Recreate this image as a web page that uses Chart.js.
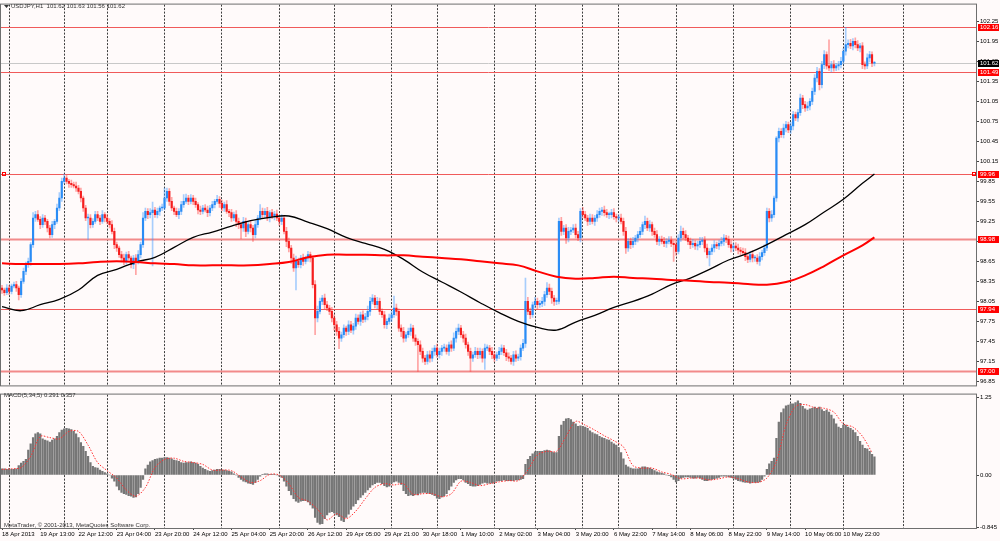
<!DOCTYPE html>
<html>
<head>
<meta charset="utf-8">
<script src="https://cdn.jsdelivr.net/npm/chart.js@4.4.0/dist/chart.umd.min.js"></script>
<style>
    html, body { margin: 0; padding: 0; background: #fffafa; }
    #wrap { position: relative; width: 1000px; height: 541px; overflow: hidden; background: #fffafa; }
    #main { position: absolute; left: 0; top: 0; width: 1000px; height: 390px; }
    #sub { position: absolute; left: 0; top: 390px; width: 1000px; height: 151px; }
</style>
</head>
<body>
<div id="wrap">
    <div id="main"><canvas id="price-chart"></canvas></div>
    <div id="sub"><canvas id="macd-chart"></canvas></div>
</div>
<script>
/**
 * USDJPY H1 - price chart with MAs, levels and MACD(5,34,5)
 */

// hourly closes, bar 0 = 18 Apr 2013
const firstOpen = 98.25;
const closes = [
    98.22, 98.18, 98.25, 98.20, 98.28, 98.30, 98.25, 98.15, 98.35, 98.50, 98.60, 98.65, 98.90, 99.30, 99.35, 99.28, 99.20, 99.30, 99.25, 99.15,
    99.05, 99.20, 99.25, 99.45, 99.60, 99.85, 99.90, 99.85, 99.82, 99.80, 99.78, 99.75, 99.70, 99.60, 99.45, 99.30, 99.30, 99.20, 99.25, 99.35,
    99.30, 99.25, 99.35, 99.30, 99.25, 99.20, 99.10, 98.90, 98.85, 98.75, 98.70, 98.65, 98.75, 98.70, 98.60, 98.70, 98.65, 98.75, 98.90, 99.30,
    99.40, 99.35, 99.38, 99.42, 99.35, 99.40, 99.45, 99.45, 99.60, 99.70, 99.55, 99.45, 99.40, 99.35, 99.40, 99.50, 99.55, 99.60, 99.55, 99.60,
    99.55, 99.50, 99.42, 99.40, 99.45, 99.42, 99.38, 99.45, 99.50, 99.55, 99.58, 99.52, 99.45, 99.50, 99.40, 99.38, 99.30, 99.35, 99.25, 99.20,
    99.15, 99.25, 99.10, 99.20, 99.15, 99.05, 99.20, 99.30, 99.40, 99.35, 99.40, 99.30, 99.38, 99.32, 99.36, 99.30, 99.25, 99.30, 99.10, 98.95,
    98.85, 98.70, 98.55, 98.65, 98.60, 98.70, 98.65, 98.70, 98.75, 98.70, 98.30, 97.80, 97.90, 98.05, 98.10, 98.00, 97.95, 97.90, 97.80, 97.70,
    97.60, 97.50, 97.55, 97.65, 97.60, 97.70, 97.62, 97.68, 97.80, 97.75, 97.85, 97.78, 97.82, 97.90, 98.05, 98.10, 98.00, 98.05, 97.90, 97.85,
    97.70, 97.75, 97.80, 97.85, 97.95, 97.90, 97.65, 97.60, 97.50, 97.55, 97.60, 97.65, 97.50, 97.45, 97.40, 97.30, 97.20, 97.15, 97.25, 97.20,
    97.30, 97.35, 97.25, 97.30, 97.35, 97.35, 97.30, 97.40, 97.35, 97.50, 97.60, 97.65, 97.55, 97.50, 97.40, 97.30, 97.20, 97.25, 97.30, 97.25,
    97.30, 97.20, 97.35, 97.35, 97.30, 97.25, 97.20, 97.25, 97.30, 97.35, 97.28, 97.22, 97.20, 97.15, 97.25, 97.20, 97.22, 97.35, 97.42, 98.05,
    97.90, 97.85, 98.00, 98.05, 98.00, 98.02, 98.05, 98.15, 98.25, 98.20, 98.10, 98.05, 98.05, 99.25, 99.10, 99.15, 99.00, 99.10, 99.12, 99.15,
    99.05, 99.00, 99.40, 99.35, 99.30, 99.25, 99.30, 99.25, 99.30, 99.35, 99.40, 99.42, 99.38, 99.35, 99.35, 99.38, 99.32, 99.30, 99.30, 99.25,
    99.10, 98.85, 98.95, 98.90, 98.95, 99.00, 99.05, 99.10, 99.20, 99.25, 99.15, 99.20, 99.10, 99.05, 98.95, 98.98, 98.95, 98.92, 98.95, 98.97,
    98.92, 98.90, 98.80, 99.00, 99.10, 99.05, 99.00, 98.95, 98.90, 98.92, 98.88, 98.90, 98.95, 98.97, 98.85, 98.75, 98.80, 98.85, 98.90, 98.88,
    98.92, 98.95, 99.00, 98.98, 98.90, 98.85, 98.88, 98.85, 98.82, 98.80, 98.78, 98.72, 98.68, 98.75, 98.70, 98.70, 98.65, 98.72, 98.78, 98.85,
    99.40, 99.30, 99.35, 99.60, 100.50, 100.60, 100.55, 100.65, 100.70, 100.62, 100.68, 100.85, 100.80, 100.88, 101.10, 101.00, 100.95, 100.98, 101.05, 101.20,
    101.40, 101.50, 101.30, 101.60, 101.75, 101.58, 101.55, 101.60, 101.55, 101.58, 101.60, 101.65, 101.80, 101.90, 101.92, 101.88, 101.95, 101.90, 101.85, 101.88,
    101.60, 101.58, 101.70, 101.75, 101.62, 101.62
];

// wick lengths above / below the candle body, in pips
const wickUp = [
    4, 3, 5, 4, 3, 4, 5, 3, 4, 5, 4, 5, 3, 8, 5, 6, 4, 5, 4, 3,
    4, 5, 3, 6, 8, 5, 6, 4, 3, 5, 4, 6, 4, 5, 3, 4, 6, 5, 4, 5,
    5, 4, 6, 3, 5, 4, 6, 5, 4, 3, 5, 6, 4, 5, 3, 4, 5, 6, 4, 8,
    5, 4, 6, 12, 4, 5, 3, 6, 15, 5, 4, 6, 3, 5, 4, 5, 10, 6, 4, 5,
    4, 5, 3, 6, 4, 5, 6, 4, 5, 3, 6, 4, 5, 4, 6, 3, 5, 4, 6, 5,
    4, 6, 5, 3, 5, 4, 6, 4, 10, 5, 4, 6, 3, 5, 4, 6, 4, 5, 3, 6,
    5, 4, 6, 8, 5, 4, 6, 3, 5, 4, 3, 6, 8, 5, 4, 6, 5, 4, 6, 5,
    5, 6, 4, 5, 3, 6, 5, 4, 6, 5, 4, 6, 5, 8, 6, 5, 4, 6, 5, 4,
    5, 4, 6, 5, 18, 6, 4, 5, 6, 4, 5, 6, 4, 5, 4, 6, 5, 4, 5, 6,
    5, 4, 6, 5, 4, 6, 5, 4, 6, 8, 5, 6, 4, 5, 6, 4, 5, 4, 6, 5,
    5, 4, 6, 5, 4, 6, 5, 4, 6, 5, 4, 5, 6, 4, 5, 6, 4, 5, 6, 35,
    6, 5, 4, 6, 5, 4, 6, 5, 8, 6, 5, 4, 5, 5, 6, 4, 5, 6, 4, 5,
    6, 5, 4, 6, 5, 4, 6, 5, 4, 6, 5, 4, 6, 5, 4, 5, 6, 4, 5, 6,
    5, 6, 4, 5, 6, 4, 5, 6, 4, 8, 5, 6, 4, 5, 6, 4, 5, 6, 4, 5,
    5, 4, 6, 5, 8, 5, 6, 4, 5, 6, 4, 5, 6, 4, 5, 6, 4, 5, 6, 4,
    5, 6, 5, 4, 5, 6, 4, 5, 6, 4, 5, 6, 4, 5, 6, 4, 5, 6, 4, 5,
    5, 4, 6, 3, 2, 5, 4, 6, 5, 4, 6, 5, 4, 5, 6, 4, 5, 6, 4, 5,
    5, 6, 4, 5, 6, 4, 39, 5, 6, 4, 5, 6, 4, 26, 5, 6, 4, 5, 6, 4,
    5, 4, 6, 5, 4, 3
];
const wickDn = [
    5, 4, 3, 5, 4, 3, 5, 8, 4, 3, 5, 4, 6, 4, 5, 3, 6, 4, 5, 6,
    5, 4, 6, 3, 4, 5, 3, 4, 6, 4, 3, 5, 4, 6, 5, 4, 32, 5, 4, 3,
    4, 5, 3, 6, 4, 5, 4, 6, 5, 4, 6, 5, 4, 3, 5, 6, 20, 4, 5, 4,
    4, 6, 5, 80, 4, 5, 6, 4, 3, 5, 6, 4, 5, 3, 6, 5, 4, 3, 5, 4,
    5, 4, 6, 5, 4, 3, 6, 5, 4, 5, 3, 6, 4, 5, 3, 6, 5, 4, 8, 6,
    16, 5, 8, 4, 6, 10, 5, 4, 3, 6, 5, 4, 6, 3, 5, 4, 6, 5, 4, 8,
    6, 8, 5, 33, 4, 5, 6, 4, 5, 6, 5, 25, 6, 4, 5, 6, 4, 5, 6, 8,
    6, 16, 5, 4, 6, 5, 4, 6, 5, 4, 6, 5, 4, 5, 6, 4, 5, 6, 5, 4,
    5, 6, 4, 5, 4, 6, 5, 8, 6, 5, 4, 6, 5, 6, 40, 5, 6, 5, 4, 6,
    5, 6, 4, 5, 6, 5, 4, 6, 5, 4, 6, 5, 4, 6, 5, 6, 20, 5, 4, 6,
    5, 6, 17, 4, 5, 6, 5, 4, 6, 5, 4, 6, 5, 4, 6, 5, 4, 5, 4, 6,
    5, 6, 4, 5, 6, 4, 5, 6, 4, 5, 8, 6, 5, 4, 6, 5, 8, 6, 5, 4,
    5, 4, 6, 5, 4, 6, 5, 4, 6, 5, 4, 6, 5, 4, 6, 5, 4, 6, 5, 4,
    6, 8, 5, 6, 4, 5, 6, 4, 5, 6, 4, 5, 6, 4, 5, 6, 4, 5, 6, 4,
    5, 25, 6, 4, 5, 6, 4, 5, 6, 4, 5, 6, 4, 5, 6, 5, 17, 5, 6, 4,
    5, 4, 6, 5, 4, 6, 5, 4, 6, 5, 4, 6, 5, 4, 6, 5, 4, 6, 5, 4,
    4, 6, 5, 4, 5, 6, 4, 5, 6, 4, 5, 6, 4, 5, 4, 6, 5, 4, 6, 5,
    5, 6, 8, 5, 6, 5, 4, 6, 5, 4, 6, 5, 4, 6, 5, 4, 6, 5, 4, 6,
    6, 5, 4, 6, 5, 4
];

// moving averages, read every 8 bars
const maBars = [0, 8, 16, 24, 32, 40, 48, 56, 64, 72, 80, 88, 96, 104, 112, 120, 128, 136, 144, 152, 160, 168, 176, 184,
    192, 200, 208, 216, 224, 232, 240, 248, 256, 264, 272, 280, 288, 296, 304, 312, 320, 328, 336, 344, 352, 360, 365];
const maFast = [97.97, 97.91, 98.00, 98.08, 98.22, 98.44, 98.53, 98.64, 98.71, 98.86, 99.01, 99.09, 99.18, 99.26, 99.31, 99.33,
    99.24, 99.14, 99.01, 98.92, 98.83, 98.68, 98.49, 98.34, 98.19, 98.03, 97.88, 97.75, 97.66, 97.62, 97.74, 97.84,
    97.96, 98.05, 98.16, 98.30, 98.40, 98.53, 98.67, 98.77, 98.90, 99.05, 99.20, 99.39, 99.58, 99.82, 99.96];
const maSlow = [98.62, 98.61, 98.61, 98.61, 98.62, 98.64, 98.65, 98.64, 98.62, 98.61, 98.59, 98.59, 98.59, 98.59, 98.61, 98.64,
    98.71, 98.75, 98.75, 98.75, 98.74, 98.74, 98.72, 98.70, 98.68, 98.65, 98.62, 98.59, 98.50, 98.42, 98.39, 98.40,
    98.42, 98.40, 98.39, 98.37, 98.36, 98.34, 98.33, 98.31, 98.30, 98.34, 98.44, 98.58, 98.74, 98.89, 99.01];

// horizontal levels and current bid
const levels = [102.16, 101.49, 99.96, 98.98, 97.94, 97.00];
const bid = 101.62;

// MACD(5,34,5) main line, one per bar
const macd = [
    0.10, 0.10, 0.09, 0.10, 0.09, 0.09, 0.10, 0.15, 0.19, 0.22, 0.25, 0.40, 0.50, 0.60, 0.66, 0.68, 0.66, 0.58, 0.56, 0.55,
    0.53, 0.56, 0.58, 0.62, 0.68, 0.72, 0.74, 0.75, 0.74, 0.73, 0.70, 0.66, 0.60, 0.52, 0.46, 0.38, 0.30, 0.20, 0.14, 0.12,
    0.11, 0.08, 0.06, 0.04, 0.02, 0.00, -0.05, -0.10, -0.18, -0.24, -0.28, -0.30, -0.31, -0.33, -0.34, -0.36, -0.35, -0.30, -0.20, -0.07,
    0.10, 0.16, 0.21, 0.23, 0.25, 0.26, 0.27, 0.27, 0.28, 0.28, 0.27, 0.26, 0.24, 0.23, 0.22, 0.20, 0.19, 0.20, 0.20, 0.21,
    0.20, 0.19, 0.17, 0.14, 0.11, 0.09, 0.07, 0.06, 0.07, 0.08, 0.09, 0.09, 0.08, 0.08, 0.07, 0.06, 0.05, 0.02, 0.00, -0.04,
    -0.07, -0.10, -0.11, -0.13, -0.14, -0.15, -0.12, -0.07, -0.02, 0.01, 0.02, 0.02, 0.01, 0.01, 0.01, 0.00, -0.02, -0.04, -0.10, -0.18,
    -0.25, -0.32, -0.38, -0.42, -0.44, -0.42, -0.41, -0.41, -0.43, -0.48, -0.53, -0.68, -0.76, -0.79, -0.78, -0.70, -0.64, -0.60, -0.59, -0.61,
    -0.64, -0.67, -0.73, -0.75, -0.68, -0.63, -0.55, -0.50, -0.46, -0.40, -0.36, -0.32, -0.28, -0.24, -0.20, -0.16, -0.14, -0.12, -0.12, -0.14,
    -0.17, -0.19, -0.18, -0.13, -0.11, -0.10, -0.12, -0.15, -0.25, -0.30, -0.33, -0.32, -0.33, -0.31, -0.32, -0.29, -0.28, -0.28, -0.29, -0.30,
    -0.31, -0.33, -0.37, -0.38, -0.35, -0.33, -0.30, -0.24, -0.18, -0.12, -0.08, -0.06, -0.06, -0.08, -0.12, -0.14, -0.17, -0.18, -0.18, -0.17,
    -0.15, -0.13, -0.12, -0.13, -0.13, -0.13, -0.12, -0.10, -0.09, -0.09, -0.08, -0.09, -0.09, -0.09, -0.09, -0.08, -0.08, -0.07, -0.06, 0.17,
    0.25, 0.30, 0.34, 0.37, 0.38, 0.38, 0.38, 0.39, 0.40, 0.39, 0.37, 0.36, 0.36, 0.62, 0.80, 0.86, 0.90, 0.91, 0.89, 0.85,
    0.82, 0.78, 0.79, 0.78, 0.77, 0.75, 0.71, 0.68, 0.66, 0.65, 0.62, 0.60, 0.59, 0.57, 0.56, 0.53, 0.50, 0.48, 0.44, 0.36,
    0.26, 0.16, 0.13, 0.11, 0.10, 0.10, 0.10, 0.11, 0.13, 0.13, 0.12, 0.11, 0.09, 0.07, 0.05, 0.04, 0.03, 0.02, 0.00, -0.01,
    -0.03, -0.07, -0.11, -0.09, -0.05, -0.04, -0.03, -0.03, -0.04, -0.05, -0.05, -0.04, -0.05, -0.07, -0.09, -0.09, -0.08, -0.07, -0.06, -0.05,
    -0.04, -0.02, -0.02, -0.02, -0.03, -0.04, -0.05, -0.07, -0.09, -0.10, -0.11, -0.12, -0.12, -0.13, -0.12, -0.12, -0.12, -0.11, -0.07, -0.02,
    0.09, 0.18, 0.22, 0.27, 0.59, 0.85, 1.00, 1.06, 1.11, 1.12, 1.14, 1.14, 1.16, 1.19, 1.15, 1.10, 1.06, 1.04, 1.06, 1.07,
    1.09, 1.07, 1.09, 1.05, 1.02, 1.04, 1.01, 0.96, 0.90, 0.82, 0.77, 0.75, 0.80, 0.80, 0.77, 0.75, 0.72, 0.68, 0.62, 0.54,
    0.48, 0.43, 0.42, 0.38, 0.33, 0.29
];
// signal line, read every 4 bars
const signalStep = 4;
const signal = [
    0.09, 0.10, 0.12, 0.30, 0.62, 0.60, 0.58, 0.70, 0.70, 0.48,
    0.20, 0.07, -0.05, -0.24, -0.34, -0.20, 0.12, 0.25, 0.27, 0.22,
    0.20, 0.17, 0.08, 0.08, 0.07, -0.03, -0.12, -0.09, 0.01, 0.00,
    -0.14, -0.36, -0.42, -0.55, -0.72, -0.62, -0.70, -0.58, -0.38, -0.20,
    -0.14, -0.16, -0.14, -0.31, -0.30, -0.30, -0.35, -0.30, -0.10, -0.12,
    -0.17, -0.14, -0.11, -0.09, -0.09, 0.08, 0.32, 0.38, 0.38, 0.62,
    0.86, 0.80, 0.72, 0.63, 0.55, 0.45, 0.15, 0.11, 0.11, 0.05,
    0.01, -0.06, -0.05, -0.05, -0.08, -0.06, -0.03, -0.06, -0.11, -0.12,
    -0.05, 0.22, 0.80, 1.10, 1.13, 1.08, 1.07, 1.01, 0.82, 0.77,
    0.62, 0.36
];

// axis ticks
const priceTicks = [96.85, 97.15, 97.45, 97.75, 98.05, 98.35, 98.65, 98.95, 99.25, 99.55, 99.85,
    100.15, 100.45, 100.75, 101.05, 101.35, 101.65, 101.95, 102.25];
const macdTicks = [-0.845, 0, 1.25];
const dayGridBars = [3, 26, 44, 68, 92, 116, 139, 163, 182, 206, 223, 243, 258, 282, 306, 330, 352, 377];
const timeBars = [0, 16, 32, 48, 64, 80, 96, 112, 128, 144, 160, 176, 192, 208, 224, 240, 256, 272, 288, 304, 320, 336, 352];
const timeLabels = ['18 Apr 2013', '19 Apr 13:00', '22 Apr 12:00', '23 Apr 04:00', '23 Apr 20:00', '24 Apr 12:00',
    '25 Apr 04:00', '25 Apr 20:00', '26 Apr 12:00', '29 Apr 05:00', '29 Apr 21:00', '30 Apr 18:00', '1 May 10:00',
    '2 May 02:00', '3 May 04:00', '3 May 20:00', '6 May 22:00', '7 May 14:00', '8 May 06:00', '8 May 22:00',
    '9 May 14:00', '10 May 06:00', '10 May 22:00'];

const FONT = 'Liberation Sans';
const X_MIN = -0.42, X_MAX = 407.5;

const opens = closes.map((c, i) => i === 0 ? firstOpen : closes[i - 1]);
const highs = closes.map((c, i) => Math.max(opens[i], c) + (wickUp[i] || 0) / 100);
const lows = closes.map((c, i) => Math.min(opens[i], c) - (wickDn[i] || 0) / 100);
const upBar = closes.map((c, i) => c >= opens[i]);

function dayGrid() {
    return {
        type: 'linear', min: X_MIN, max: X_MAX, offset: false,
        afterBuildTicks: axis => { axis.ticks = dayGridBars.map(v => ({ value: v })); },
        ticks: { display: false },
        grid: { color: '#3c3c3c', lineWidth: 1, drawTicks: false, offset: false },
        border: { display: false, dash: [2, 1.5] },
        afterFit: axis => { axis.height = 0; }
    };
}

function drawFrame(ctx, a) {
    ctx.strokeStyle = '#6e6e6e';
    ctx.lineWidth = 1;
    ctx.strokeRect(a.left - 0.5, a.top - 0.5, a.right - a.left + 1, a.bottom - a.top + 1);
}

function priceBox(ctx, y, value, fill) {
    const py = Math.round(y.getPixelForValue(value));
    ctx.fillStyle = fill;
    ctx.fillRect(978, py - 3, 21, 7);
    ctx.fillStyle = '#fff';
    ctx.font = `6px "${FONT}"`;
    ctx.textBaseline = 'middle';
    ctx.textAlign = 'left';
    ctx.fillText(value.toFixed(2), 980, py + 0.5);
}

const priceOverlay = {
    id: 'priceOverlay',
    beforeDatasetsDraw(chart) {
        const { ctx, chartArea: a, scales: { y } } = chart;
        ctx.save();
        let py = Math.round(y.getPixelForValue(bid)) + 0.5;
        ctx.strokeStyle = '#c8c8c8';
        ctx.lineWidth = 1;
        ctx.beginPath(); ctx.moveTo(a.left, py); ctx.lineTo(a.right, py); ctx.stroke();
        levels.forEach((v, i) => {
            const thick = i === 3 || i === 5;
            py = Math.round(y.getPixelForValue(v)) + 0.5;
            ctx.strokeStyle = thick ? '#f28a8a' : '#f05a5a';
            ctx.lineWidth = thick ? 1.8 : 1;
            ctx.beginPath(); ctx.moveTo(a.left, py); ctx.lineTo(a.right, py); ctx.stroke();
        });
        ctx.restore();
    },
    afterDraw(chart) {
        const { ctx, chartArea: a, scales: { y } } = chart;
        ctx.save();
        drawFrame(ctx, a);
        // level tags on the price scale
        levels.forEach(v => priceBox(ctx, y, v, '#ff0000'));
        priceBox(ctx, y, bid, '#000000');
        // small anchor squares on the 99.96 line
        const sy = Math.round(y.getPixelForValue(levels[2]));
        ctx.strokeStyle = '#ff0000';
        ctx.strokeRect(2.5, sy - 1.5, 3, 3);
        ctx.strokeRect(972.5, sy - 1.5, 3, 3);
        // title
        ctx.fillStyle = '#333';
        ctx.beginPath(); ctx.moveTo(4, 5); ctx.lineTo(9, 5); ctx.lineTo(6.5, 8); ctx.closePath(); ctx.fill();
        ctx.font = `6px "${FONT}"`;
        ctx.textBaseline = 'middle';
        ctx.textAlign = 'left';
        ctx.fillText('USDJPY,H1  101.62 101.63 101.56 101.62', 11, 6.5);
        ctx.restore();
    }
};

new Chart(document.getElementById('price-chart'), {
    type: 'bar',
    data: {
        datasets: [{
            data: closes.map((c, i) => ({ x: i, y: [lows[i], highs[i]] })),
            backgroundColor: upBar.map(u => u ? 'rgba(60,150,255,0.45)' : 'rgba(255,60,60,0.45)'),
            barThickness: 1,
            grouped: false,
            order: 3
        }, {
            data: closes.map((c, i) => ({ x: i, y: [opens[i], c] })),
            backgroundColor: upBar.map(u => u ? '#2a8cf5' : '#f51e1e'),
            barThickness: 1.5,
            minBarLength: 1,
            grouped: false,
            order: 2
        }, {
            type: 'line',
            data: maBars.map((b, k) => ({ x: b, y: maFast[k] })),
            borderColor: '#000000',
            borderWidth: 1.3,
            pointRadius: 0,
            tension: 0.4,
            order: 1
        }, {
            type: 'line',
            data: maBars.map((b, k) => ({ x: b, y: maSlow[k] })),
            borderColor: '#ff0000',
            borderWidth: 2,
            pointRadius: 0,
            tension: 0.4,
            order: 0
        }]
    },
    options: {
        responsive: true,
        maintainAspectRatio: false,
        animation: false,
        layout: { padding: { left: 1, top: 2, right: 0, bottom: 1 } },
        plugins: { legend: { display: false }, tooltip: { enabled: false } },
        scales: {
            x: dayGrid(),
            y: {
                position: 'right', min: 96.79, max: 102.50,
                afterBuildTicks: axis => { axis.ticks = priceTicks.map(v => ({ value: v })); },
                afterFit: axis => { axis.width = 24; },
                ticks: { autoSkip: false, padding: 1, color: '#000', font: { family: FONT, size: 6 }, callback: v => v.toFixed(2) },
                grid: { drawOnChartArea: false, tickLength: 3, color: '#444' },
                border: { color: '#6e6e6e' }
            }
        }
    },
    plugins: [priceOverlay]
});

const macdOverlay = {
    id: 'macdOverlay',
    afterDraw(chart) {
        const { ctx, chartArea: a } = chart;
        ctx.save();
        drawFrame(ctx, a);
        ctx.fillStyle = '#333';
        ctx.font = `6px "${FONT}"`;
        ctx.textBaseline = 'middle';
        ctx.textAlign = 'left';
        ctx.fillText('MACD(5,34,5) 0.291 0.357', 4, 5.5);
        ctx.fillText('MetaTrader, © 2001-2013, MetaQuotes Software Corp.', 4, 135.5);
        ctx.restore();
    }
};

new Chart(document.getElementById('macd-chart'), {
    type: 'bar',
    data: {
        datasets: [{
            data: macd.map((v, i) => ({ x: i, y: v })),
            backgroundColor: '#767676',
            barThickness: 1.6,
            order: 1
        }, {
            type: 'line',
            data: signal.map((v, k) => ({ x: k * signalStep, y: v })),
            borderColor: '#ff3030',
            borderWidth: 1,
            borderDash: [1.5, 1.5],
            pointRadius: 0,
            tension: 0.3,
            order: 0
        }]
    },
    options: {
        responsive: true,
        maintainAspectRatio: false,
        animation: false,
        layout: { padding: { left: 1, top: 2, right: 0, bottom: 0 } },
        plugins: { legend: { display: false }, tooltip: { enabled: false } },
        scales: {
            x: dayGrid(),
            xl: {
                type: 'linear', position: 'bottom', min: X_MIN, max: X_MAX, offset: false,
                afterBuildTicks: axis => { axis.ticks = timeBars.map(v => ({ value: v })); },
                afterFit: axis => { axis.height = 13; },
                ticks: {
                    autoSkip: false, maxRotation: 0, align: 'start', padding: 1, color: '#000',
                    font: { family: FONT, size: 6 },
                    callback: (v, i) => timeLabels[i]
                },
                grid: { drawOnChartArea: false, tickLength: 2, color: '#444', offset: false },
                border: { display: false }
            },
            y: {
                position: 'right', min: -0.85, max: 1.29,
                afterBuildTicks: axis => { axis.ticks = macdTicks.map(v => ({ value: v })); },
                afterFit: axis => { axis.width = 24; },
                ticks: {
                    autoSkip: false, padding: 1, color: '#000', font: { family: FONT, size: 6 },
                    callback: v => v === -0.845 ? '-0.845' : v.toFixed(2)
                },
                grid: { drawOnChartArea: false, tickLength: 3, color: '#444' },
                border: { color: '#6e6e6e' }
            }
        }
    },
    plugins: [macdOverlay]
});
</script>
</body>
</html>
